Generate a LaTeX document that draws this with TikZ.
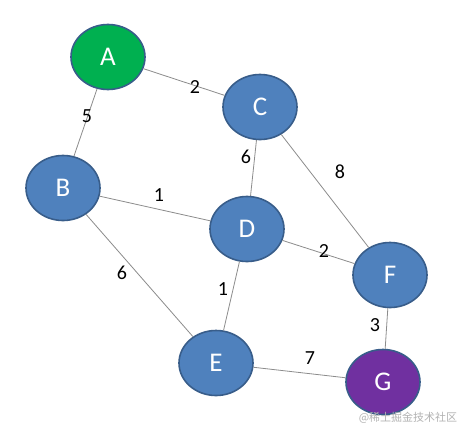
\documentclass[tikz,border=0pt]{standalone}
\usepackage{fontspec}
\setmainfont{Carlito}
\newfontfamily\cjk{Noto Sans CJK SC}
\usetikzlibrary{shapes.geometric}
\definecolor{nblue}{HTML}{4F81BD}
\definecolor{nborder}{HTML}{385D8A}
\definecolor{ngreen}{HTML}{00B050}
\definecolor{npurple}{HTML}{7030A0}
\definecolor{edgegray}{HTML}{8C8C8C}
\tikzset{
  vert/.style={ellipse, draw=nborder, line width=1.6pt, fill=nblue,
    minimum width=74pt, minimum height=65pt, inner sep=0pt,
    text=white, font=\fontsize{27}{27}\selectfont},
  edge/.style={draw=edgegray, line width=0.8pt},
  wlab/.style={font=\fontsize{20}{20}\selectfont, text=black, inner sep=0pt}
}
\begin{document}
\begin{tikzpicture}[x=1pt,y=-1pt]
\useasboundingbox (0,0) rectangle (463,437);
\fill[white] (0,0) rectangle (463,437);
\node[vert, fill=ngreen] (A) at (108,57) {A};
\node[vert] (C) at (260,107) {C};
\node[vert] (B) at (63,188) {B};
\node[vert] (D) at (247,229) {D};
\node[vert] (F) at (390,275) {F};
\node[vert] (E) at (216,363) {E};
\node[vert, fill=npurple] (G) at (383,382) {G};
\draw[edge] (A) -- (C);
\draw[edge] (A) -- (B);
\draw[edge] (C) -- (D);
\draw[edge] (C) -- (F);
\draw[edge] (B) -- (D);
\draw[edge] (B) -- (E);
\draw[edge] (D) -- (E);
\draw[edge] (D) -- (F);
\draw[edge] (F) -- (G);
\draw[edge] (E) -- (G);
\node[wlab] (lAC) at (195,87) {2};
\node[wlab] (lAB) at (87,116) {5};
\node[wlab] (lCD) at (246,157) {6};
\node[wlab] (lCF) at (340,172) {8};
\node[wlab] (lBD) at (159,195) {1};
\node[wlab] (lBE) at (122,273) {6};
\node[wlab] (lDE) at (223,289) {1};
\node[wlab] (lDF) at (324,251) {2};
\node[wlab] (lFG) at (375,325) {3};
\node[wlab] (lEG) at (310,358) {7};
\node[font=\cjk\fontsize{11}{11}\selectfont, text=black!30, inner sep=0pt] (wm) at (408,418) {@稀土掘金技术社区};
\end{tikzpicture}
\end{document}
